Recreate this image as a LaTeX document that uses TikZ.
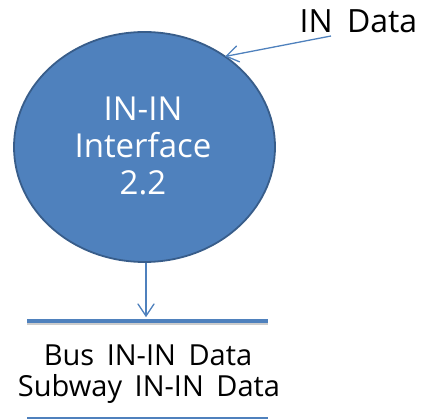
\documentclass[tikz,border=0pt]{standalone}
\usepackage{fontspec}
\setmainfont{Open Sans}
\usetikzlibrary{calc,shapes.geometric}
\definecolor{blfill}{HTML}{4F81BD}
\definecolor{bldraw}{HTML}{385D8A}
\tikzset{
  flow/.style={draw=blfill, line width=1.3pt},
  barb/.style={draw=blfill, line width=1.3pt, line cap=round, line join=miter},
  bar/.style={draw=blfill, line width=4pt},
  txt/.style={font=\fontsize{29}{34}\selectfont, text=black, align=center, inner sep=0pt}
}
\begin{document}
\begin{tikzpicture}[x=1pt,y=1pt]
\useasboundingbox (0,0) rectangle (423,-419);
\node[ellipse, draw=bldraw, line width=1.8pt, fill=blfill, minimum width=261pt, minimum height=230pt, inner sep=0pt] (proc) at (144.5,-147) {};
\node[text=white, align=center, font=\fontsize{33}{37}\selectfont, anchor=base, inner sep=0pt] (ptext) at (143,-195) {IN-IN\\Interface\\2.2};
\node[font=\fontsize{32}{34}\selectfont, anchor=base, inner sep=0pt] (indata) at (358.5,-33) {IN\hspace{6pt} Data};
% arrow IN Data -> process
\coordinate (src) at (331,-36);
\coordinate (tipA) at (proc.48);
\draw[flow] (src) -- (tipA);
\coordinate (backA) at ($(tipA)!12pt!(src)$);
\draw[barb] ($(backA)!8pt!90:(tipA)$) -- (tipA) -- ($(backA)!8pt!-90:(tipA)$);
% store bars
\coordinate (barL) at (27,-321);
\coordinate (barR) at (268,-321);
\draw[draw=black!20, line width=3pt] ([yshift=-2.5pt]barL) -- ([yshift=-2.5pt]barR);
\draw[bar] (barL) -- (barR);
\coordinate (bar2L) at (27,-418);
\coordinate (bar2R) at (268,-418);
\draw[draw=blfill, line width=2pt] (bar2L) -- (bar2R);
% arrow process -> store
\coordinate (tgt) at (146,-316);
\coordinate (srcB) at (proc.south -| tgt);
\draw[flow] (srcB) -- (tgt);
\coordinate (backB) at ($(tgt)!12pt!(srcB)$);
\draw[barb] ($(backB)!8pt!90:(tgt)$) -- (tgt) -- ($(backB)!8pt!-90:(tgt)$);
\node[txt, anchor=base] (l1) at (148,-366) {Bus\hspace{5pt} IN-IN\hspace{5pt} Data};
\node[txt, anchor=base] (l2) at (149,-397) {Subway\hspace{5pt} IN-IN\hspace{5pt} Data};
\end{tikzpicture}
\end{document}
